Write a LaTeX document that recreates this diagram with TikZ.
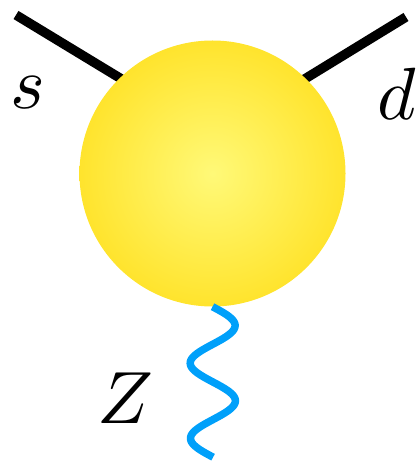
\documentclass[tikz,border=0pt]{standalone}
\definecolor{ballin}{RGB}{255,249,120}
\definecolor{ballout}{RGB}{255,215,0}
\definecolor{zblue}{RGB}{0,160,250}
\pgfdeclareradialshading{ball}{\pgfpoint{0bp}{0bp}}{color(0bp)=(ballin); color(40bp)=(ballout); color(50bp)=(ballout)}
\begin{document}
\begin{tikzpicture}[x=1pt,y=-1pt,
  quark/.style={line width=9.5pt, black},
  boson/.style={line width=7.5pt, zblue},
  lbl/.style={inner sep=0pt, scale=7.4}]
\useasboundingbox (0,0) rectangle (418,462);
\coordinate (sOut) at (16,15);
\coordinate (sIn) at (133,86);
\coordinate (dOut) at (406,17);
\coordinate (dIn) at (290,88);
\draw[quark] (sOut) -- (sIn);
\draw[quark] (dOut) -- (dIn);
\node[circle, minimum size=266pt, inner sep=0pt, shade, shading=ball] (blob) at (212.5,173.5) {};
\draw[boson, shift={(blob.south)}] plot[domain=0:150.5, samples=160, smooth] ({22.5*sin(\x*4.784)+\x*0.004}, {\x}) coordinate (zEnd);
\node[lbl] (s) at (27.5,92.5) {$s$};
\node[lbl] (d) at (396.5,94) {$d$};
\node[lbl] (Z) at (125.5,398.5) {$Z$};
\end{tikzpicture}
\end{document}
